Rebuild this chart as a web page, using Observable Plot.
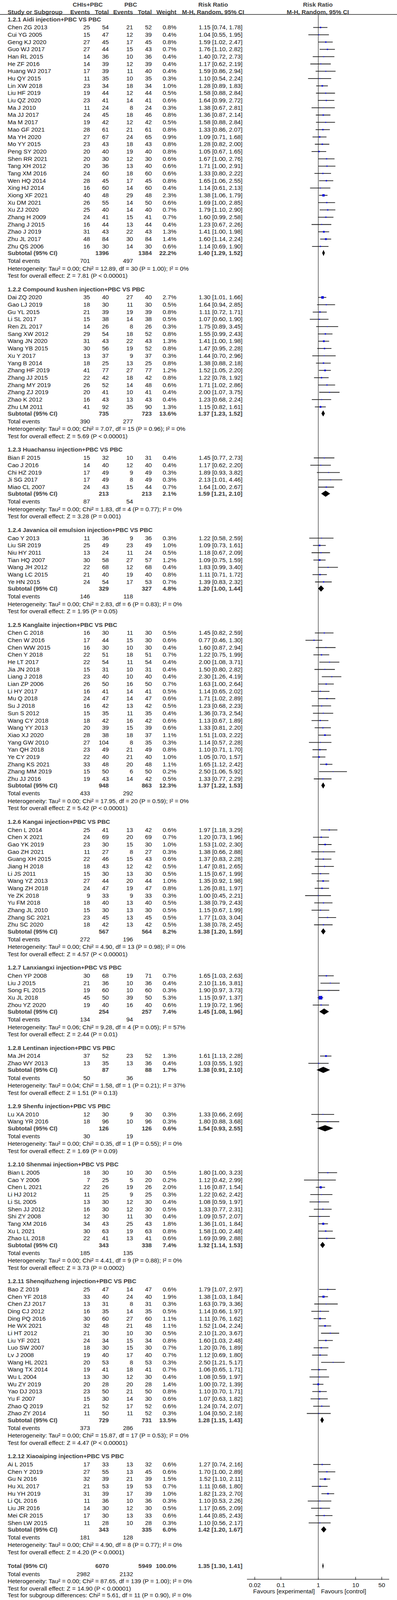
<!DOCTYPE html>
<html><head><meta charset="utf-8">
<script src="https://cdn.jsdelivr.net/npm/d3@7"></script>
<script src="https://cdn.jsdelivr.net/npm/@observablehq/plot@0.6"></script>
<style>html,body{margin:0;padding:0;background:#fff} svg{display:block}</style>
</head><body><div id="chart"></div>
<script>
// ---------------- DATA ----------------
const groupTitles = [
  "1.2.1 Aidi injection+PBC VS PBC",
  "1.2.2 Compound kushen injection+PBC VS PBC",
  "1.2.3 Huachansu injection+PBC VS PBC",
  "1.2.4 Javanica oil emulsion injection+PBC VS PBC",
  "1.2.5 Kanglaite injection+PBC VS PBC",
  "1.2.6 Kangai injection+PBC VS PBC",
  "1.2.7 Lanxiangxi injection+PBC VS PBC",
  "1.2.8 Lentinan injection+PBC VS PBC",
  "1.2.9 Shenfu injection+PBC VS PBC",
  "1.2.10 Shenmai injection+PBC VS PBC",
  "1.2.11 Shenqifuzheng injection+PBC VS PBC",
  "1.2.12 Xiaoaiping injection+PBC VS PBC"
];
const studyNames = [
  ["Chen ZG 2013","Cui YG 2005","Geng KJ 2020","Guo WJ 2017","Han RL 2015","He ZF 2016","Huang WJ 2017","Hu QY 2015","Lin XW 2018","Liu HF 2019","Liu QZ 2020","Ma J 2010","Ma JJ 2017","Ma M 2017","Mao GF 2021","Ma YH 2020","Mo YY 2015","Peng SY 2020","Shen RR 2021","Tang XH 2012","Tang XM 2016","Wen HQ 2014","Xing HJ 2014","Xiong XF 2021","Xu DM 2021","Xu ZJ 2020","Zhang H 2009","Zhang J 2015","Zhao J 2019","Zhu JL 2017","Zhu QS 2006"],
  ["Dai ZQ 2020","Gao LJ 2019","Gu YL 2015","Li SL 2017","Ren ZL 2017","Sang XW 2012","Wang JN 2020","Wang YB 2015","Xu Y 2017","Yang B 2014","Zhang HF 2019","Zhang JJ 2015","Zhang MY 2019","Zhang ZJ 2019","Zhao K 2012","Zhu LM 2011"],
  ["Bian F 2015","Cao J 2016","Chi HZ 2019","Ji SG 2017","Miao CL 2007"],
  ["Cao Y 2013","Liu SR 2019","Niu HY 2011","Tian HQ 2007","Wang JH 2012","Wang LC 2015","Ye HN 2015"],
  ["Chen C 2018","Chen W 2016","Chen WW 2015","Chen Y 2018","He LT 2017","Jia JN 2018","Liang J 2018","Lian ZP 2006","Li HY 2017","Mu Q 2018","Su J 2018","Sun S 2012","Wang CY 2018","Wang YY 2013","Xiao XJ 2020","Yang GW 2010","Yan QH 2018","Ye CY 2019","Zhang KS 2021","Zhang MM 2019","Zhu JJ 2016"],
  ["Chen L 2014","Chen X 2021","Gao YK 2019","Gao ZH 2021","Guang XH 2015","Jiang H 2018","Li JS 2011","Wang YZ 2013","Wang ZH 2018","Ye ZK 2018","Yu FM 2018","Zhang JL 2010","Zhang SC 2021","Zhu SC 2020"],
  ["Chen YP 2008","Liu J 2015","Song FL 2015","Xu JL 2018","Zhou YZ 2020"],
  ["Ma JH 2014","Zhao WY 2013"],
  ["Lu XA 2010","Wang YR 2016"],
  ["Bian L 2005","Cao Y 2006","Chen L 2021","Li HJ 2012","Li SL 2005","Shen JJ 2012","Shi ZY 2008","Tang XM 2016","Xu L 2021","Zhao LL 2018"],
  ["Bao Z 2019","Chen YF 2018","Chen ZJ 2017","Ding CJ 2012","Ding PQ 2016","He WX 2021","Li HT 2012","Liu YF 2021","Luo SW 2007","Lv J 2008","Wang HL 2021","Wang TX 2014","Wu L 2004","Wu ZY 2019","Yao DJ 2013","Yu F 2007","Zhao Q 2019","Zhao ZY 2014"],
  ["Ai L 2015","Chen Y 2019","Gu N 2016","Hu XL 2017","Hu YH 2019","Li QL 2016","Liu JR 2016","Mei CR 2015","Shen LW 2015"]
];
const expEvents = [
  [25,15,27,27,14,14,17,11,23,19,23,11,24,19,28,27,23,20,20,20,24,28,16,40,26,25,24,16,31,48,16],
  [35,18,21,15,14,29,31,30,13,18,41,22,26,20,16,41],
  [15,14,17,17,24],
  [11,25,13,30,22,21,24],
  [16,17,16,22,22,15,23,26,16,24,16,15,18,20,28,27,23,22,33,15,19],
  [25,24,23,11,22,18,15,27,24,9,18,15,23,18],
  [30,21,19,45,19],
  [37,13],
  [12,18],
  [18,7,22,11,13,16,12,34,30,22],
  [25,33,13,16,30,32,21,24,18,19,20,19,13,20,23,15,21,11],
  [17,27,32,21,31,11,14,17,11]
];
const expTotal = [
  [54,47,45,44,36,39,39,35,34,44,41,24,45,42,61,67,43,40,30,36,60,45,60,48,55,40,41,44,43,84,30],
  [40,30,39,38,26,54,43,56,37,25,77,42,52,41,43,92],
  [32,40,49,49,43],
  [36,49,24,58,68,40,54],
  [30,44,30,51,54,31,40,50,41,47,42,35,42,39,38,104,49,40,48,50,43],
  [41,69,30,27,46,43,30,44,47,33,40,30,45,42],
  [68,36,60,50,40],
  [52,35],
  [30,96],
  [30,25,26,25,30,30,30,43,63,41],
  [47,40,31,35,60,48,30,34,30,40,53,41,30,28,50,30,52,50],
  [33,55,39,53,39,36,30,30,28]
];
const ctrlEvents = [
  [21,12,17,15,10,12,11,10,18,12,14,8,18,12,21,24,18,19,12,13,18,17,14,29,14,14,15,13,22,30,14],
  [27,11,19,14,8,18,22,19,9,13,27,18,14,10,13,35],
  [10,12,9,8,15],
  [9,23,11,27,12,19,17],
  [11,15,10,18,11,10,10,16,14,14,13,11,16,15,18,8,21,21,20,6,14],
  [13,20,15,8,15,12,13,20,19,9,13,13,13,13],
  [19,10,10,39,16],
  [23,13],
  [9,10],
  [10,5,19,9,12,12,11,25,19,13],
  [14,24,8,14,27,21,10,15,15,17,8,18,12,20,21,14,17,11],
  [13,13,21,19,17,10,12,13,10]
];
const ctrlTotal = [
  [52,39,45,43,36,39,40,35,34,44,41,24,46,42,61,65,43,40,30,40,60,45,60,48,50,40,41,44,43,84,30],
  [40,30,39,38,26,52,43,52,37,25,77,42,48,41,43,90],
  [31,40,49,49,44],
  [36,49,24,57,68,40,53],
  [30,30,30,51,54,31,40,50,41,47,42,35,42,39,37,35,49,40,48,50,42],
  [42,69,30,27,43,42,30,44,47,33,40,30,45,42],
  [71,36,60,50,40],
  [52,36],
  [30,96],
  [30,20,26,25,30,30,30,43,63,41],
  [47,40,31,35,60,48,30,34,30,40,53,41,30,28,50,30,52,52],
  [32,45,39,53,39,36,30,33,28]
];
const weights = [
  [0.8,0.4,0.8,0.7,0.4,0.4,0.4,0.3,1.0,0.5,0.6,0.3,0.8,0.5,0.8,0.9,0.8,0.8,0.6,0.6,0.6,0.8,0.4,2.3,0.6,0.7,0.7,0.4,1.3,1.4,0.6],
  [2.7,0.5,0.8,0.5,0.3,0.8,1.3,0.8,0.3,0.8,1.2,0.8,0.6,0.4,0.4,1.3],
  [0.4,0.4,0.3,0.3,0.7],
  [0.3,1.0,0.5,1.2,0.4,0.8,0.7],
  [0.5,0.6,0.4,0.7,0.4,0.4,0.4,0.7,0.5,0.6,0.5,0.4,0.6,0.6,1.1,0.3,0.8,1.0,1.1,0.2,0.5],
  [0.6,0.7,1.0,0.3,0.6,0.5,0.5,1.0,0.8,0.3,0.5,0.5,0.5,0.5],
  [0.7,0.4,0.3,5.3,0.6],
  [1.3,0.4],
  [0.3,0.3],
  [0.5,0.2,2.0,0.3,0.4,0.5,0.4,1.8,0.8,0.6],
  [0.6,1.9,0.3,0.5,1.1,1.1,0.5,0.8,0.7,0.7,0.3,0.7,0.4,1.4,0.8,0.6,0.6,0.3],
  [0.6,0.6,1.5,0.7,1.0,0.3,0.5,0.6,0.3]
];
const riskRatio = [
  [1.15,1.04,1.59,1.76,1.40,1.17,1.59,1.10,1.28,1.58,1.64,1.38,1.36,1.58,1.33,1.09,1.28,1.05,1.67,1.71,1.33,1.65,1.14,1.38,1.69,1.79,1.60,1.23,1.41,1.60,1.14],
  [1.30,1.64,1.11,1.07,1.75,1.55,1.41,1.47,1.44,1.38,1.52,1.22,1.71,2.00,1.23,1.15],
  [1.45,1.17,1.89,2.13,1.64],
  [1.22,1.09,1.18,1.09,1.83,1.11,1.39],
  [1.45,0.77,1.60,1.22,2.00,1.50,2.30,1.63,1.14,1.71,1.23,1.36,1.13,1.33,1.51,1.14,1.10,1.05,1.65,2.50,1.33],
  [1.97,1.20,1.53,1.38,1.37,1.47,1.15,1.35,1.26,1.00,1.38,1.15,1.77,1.38],
  [1.65,2.10,1.90,1.15,1.19],
  [1.61,1.03],
  [1.33,1.80],
  [1.80,1.12,1.16,1.22,1.08,1.33,1.09,1.36,1.58,1.69],
  [1.79,1.38,1.63,1.14,1.11,1.52,2.10,1.60,1.20,1.12,2.50,1.06,1.08,1.00,1.10,1.07,1.24,1.04],
  [1.27,1.70,1.52,1.11,1.82,1.10,1.17,1.44,1.10]
];
const ciLower = [
  [0.74,0.55,1.02,1.10,0.72,0.62,0.86,0.54,0.89,0.88,0.99,0.67,0.87,0.88,0.86,0.71,0.82,0.67,1.00,1.00,0.80,1.06,0.61,1.06,1.00,1.10,0.99,0.67,1.00,1.14,0.69],
  [1.01,0.94,0.72,0.60,0.89,0.99,1.00,0.95,0.70,0.88,1.05,0.78,1.02,1.07,0.68,0.82],
  [0.77,0.62,0.93,1.01,1.00],
  [0.58,0.73,0.67,0.75,0.99,0.71,0.83],
  [0.82,0.46,0.87,0.75,1.08,0.80,1.26,1.00,0.65,1.02,0.68,0.73,0.67,0.81,1.03,0.57,0.71,0.70,1.12,1.06,0.77],
  [1.18,0.73,1.02,0.66,0.83,0.81,0.67,0.92,0.81,0.45,0.79,0.67,1.03,0.78],
  [1.03,1.16,0.97,0.97,0.72],
  [1.13,0.55],
  [0.66,0.88],
  [1.00,0.42,0.87,0.62,0.59,0.77,0.57,1.01,1.00,0.99],
  [1.07,1.03,0.79,0.66,0.76,1.04,1.20,1.03,0.76,0.69,1.21,0.65,0.59,0.72,0.70,0.63,0.74,0.50],
  [0.74,1.00,1.10,0.68,1.23,0.53,0.65,0.85,0.56]
];
const ciUpper = [
  [1.78,1.95,2.47,2.82,2.73,2.19,2.94,2.24,1.83,2.84,2.72,2.81,2.14,2.84,2.07,1.68,2.00,1.65,2.76,2.91,2.22,2.55,2.13,1.79,2.85,2.90,2.58,2.26,1.98,2.24,1.90],
  [1.66,2.85,1.71,1.90,3.45,2.43,1.98,2.28,2.96,2.18,2.20,1.92,2.86,3.75,2.24,1.61],
  [2.73,2.20,3.82,4.46,2.67],
  [2.59,1.61,2.09,1.59,3.40,1.72,2.32],
  [2.59,1.30,2.94,1.99,3.71,2.82,4.19,2.64,2.02,2.89,2.23,2.54,1.89,2.20,2.22,2.28,1.70,1.57,2.42,5.92,2.29],
  [3.29,1.96,2.30,2.88,2.28,2.65,1.99,1.98,1.97,2.21,2.43,1.99,3.04,2.45],
  [2.63,3.81,3.73,1.37,1.96],
  [2.28,1.92],
  [2.69,3.68],
  [3.23,2.99,1.54,2.42,1.97,2.31,2.07,1.84,2.48,2.88],
  [2.97,1.84,3.36,1.97,1.62,2.24,3.67,2.48,1.89,1.80,5.17,1.71,1.97,1.39,1.71,1.82,2.07,2.18],
  [2.16,2.89,2.11,1.80,2.70,2.26,2.09,2.43,2.17]
];
// subgroup totals
const subExpTotal   = [1396,735,213,329,948,567,254,87,126,343,729,343];
const subCtrlTotal  = [1384,723,213,327,863,564,257,88,126,338,731,335];
const subWeight     = [22.2,13.6,2.1,4.8,12.3,8.2,7.4,1.7,0.6,7.4,13.5,6.0];
const subRR         = [1.40,1.37,1.59,1.20,1.37,1.38,1.45,1.38,1.54,1.32,1.28,1.42];
const subLower      = [1.29,1.23,1.21,1.00,1.22,1.20,1.08,0.91,0.93,1.14,1.15,1.20];
const subUpper      = [1.52,1.52,2.10,1.44,1.53,1.59,1.96,2.10,2.55,1.53,1.43,1.67];
const subExpEvents  = [701,390,87,146,433,272,134,50,30,185,373,181];
const subCtrlEvents = [497,277,54,118,292,196,94,36,19,135,286,128];
const hetTau2 = ["0.00","0.00","0.00","0.00","0.00","0.00","0.06","0.04","0.00","0.00","0.00","0.00"];
const hetChi2 = ["12.89","7.07","1.83","2.83","17.95","4.90","9.28","1.58","0.35","4.41","15.87","4.90"];
const hetDf   = [30,15,4,6,20,13,4,1,1,9,17,8];
const hetP    = ["1.00","0.96","0.77","0.83","0.59","0.98","0.05","0.21","0.55","0.88","0.53","0.77"];
const hetI2   = [0,0,0,0,0,0,57,37,0,0,0,0];
const testZ   = ["7.81","5.69","3.28","1.95","5.42","4.57","2.44","1.51","1.69","3.73","4.47","4.20"];
const testP   = ["< 0.00001","< 0.00001","= 0.001","= 0.05","< 0.00001","< 0.00001","= 0.01","= 0.13","= 0.09","= 0.0002","< 0.00001","< 0.0001"];
// overall
const overall = {expTotal: 6070, ctrlTotal: 5949, weight: "100.0%", rr: 1.35, lo: 1.30, hi: 1.41, expEvents: 2982, ctrlEvents: 2132};
const overallNotes = [
  "Heterogeneity: Tau² = 0.00; Chi² = 87.65, df = 139 (P = 1.00); I² = 0%",
  "Test for overall effect: Z = 14.90 (P < 0.00001)",
  "Test for subgroup differences: Chi² = 5.61, df = 11 (P = 0.90), I² = 0%"
];
const tickValues = [0.02, 0.1, 1, 10, 50];
const tickLabels = ["0.02", "0.1", "1", "10", "50"];
const favoursLabels = ["Favours [experimental]", "Favours [control]"];

// ---------------- LAYOUT (in reference row units) ----------------
const W = 1016, H = 4425;
// the photographed area ends near 4096 px, so the row layout is fitted into it
const DRAW_H = 4092;
const L = {first: 53, headToStudy: 22.5, pitch: 20.19, studyToSub: 18.7, subToTE: 21.7,
           teToHet: 21, hetToTest: 20.2, testToHead: 37.1, testToTotal: 38,
           totalToTE: 22, teToHetT: 20, hetToTestT: 20, testToSub: 19,
           axisY: 4369, headerUnderline: 39.5, headerRow1: 13, headerRow2: 33, refTop: 41};
const COL = {name: 19, e1: 230, n1: 278, e2: 340, n2: 388, w: 451, ci: 620, rrHead: 545, plotHead: 813};
const fmt2 = v => v.toFixed(2);
const ciText = (r, lo, hi) => `${fmt2(r)} [${fmt2(lo)}, ${fmt2(hi)}]`;

const studies = [], heads = [], subs = [], teRows = [], notes = [], diamonds = [];
let y = L.first, lastTest = 0;
groupTitles.forEach((title, g) => {
  heads.push({text: title, y});
  y += L.headToStudy;
  studyNames[g].forEach((name, i) => {
    studies.push({name, e1: expEvents[g][i], n1: expTotal[g][i], e2: ctrlEvents[g][i], n2: ctrlTotal[g][i],
      w: weights[g][i], rr: riskRatio[g][i], lo: ciLower[g][i], hi: ciUpper[g][i], y});
    y += L.pitch;
  });
  y += L.studyToSub - L.pitch;
  subs.push({label: "Subtotal (95% CI)", n1: subExpTotal[g], n2: subCtrlTotal[g], w: subWeight[g].toFixed(1) + "%",
    rr: subRR[g], lo: subLower[g], hi: subUpper[g], y, id: g});
  y += L.subToTE;
  teRows.push({e1: subExpEvents[g], e2: subCtrlEvents[g], y});
  y += L.teToHet;
  notes.push({text: `Heterogeneity: Tau² = ${hetTau2[g]}; Chi² = ${hetChi2[g]}, df = ${hetDf[g]} (P = ${hetP[g]}); I² = ${hetI2[g]}%`, y});
  y += L.hetToTest;
  notes.push({text: `Test for overall effect: Z = ${testZ[g]} (P ${testP[g]})`, y});
  lastTest = y;
  y += L.testToHead;
});
const totalY = lastTest + L.testToTotal;
subs.push({label: "Total (95% CI)", n1: overall.expTotal, n2: overall.ctrlTotal, w: overall.weight,
  rr: overall.rr, lo: overall.lo, hi: overall.hi, y: totalY, id: 99});
let ty = totalY + L.totalToTE;
teRows.push({e1: overall.expEvents, e2: overall.ctrlEvents, y: ty});
ty += L.teToHetT; notes.push({text: overallNotes[0], y: ty});
ty += L.hetToTestT; notes.push({text: overallNotes[1], y: ty});
ty += L.testToSub; notes.push({text: overallNotes[2], y: ty});
const lastY = ty;

const DH = 8.5;
subs.forEach(s => {
  diamonds.push({id: s.id, y: s.y - DH, x1: s.rr, x2: s.rr});
  diamonds.push({id: s.id, y: s.y, x1: s.lo, x2: s.hi});
  diamonds.push({id: s.id, y: s.y + DH, x1: s.rr, x2: s.rr});
});

const headerRow1 = [
  {text: "CHIs+PBC", dx: 224, anchor: "middle"},
  {text: "PBC", dx: 334, anchor: "middle"},
  {text: "Risk Ratio", dx: COL.rrHead, anchor: "middle"},
  {text: "Risk Ratio", dx: COL.plotHead, anchor: "middle"}
];
const headerRow2 = [
  {text: "Study or Subgroup", dx: COL.name, anchor: "start"},
  {text: "Events", dx: COL.e1, anchor: "end"},
  {text: "Total", dx: COL.n1, anchor: "end"},
  {text: "Events", dx: COL.e2, anchor: "end"},
  {text: "Total", dx: COL.n2, anchor: "end"},
  {text: "Weight", dx: COL.w, anchor: "end"},
  {text: "M-H, Random, 95% CI", dx: COL.rrHead, anchor: "middle"},
  {text: "M-H, Random, 95% CI", dx: COL.plotHead, anchor: "middle"}
];

// ---------------- PLOT ----------------
const FS = 15.5, FF = "Liberation Sans, Arial, Helvetica, sans-serif";
const DARK = "#111", GRAY = "#3d3d3d";
const T = (data, text, dx, anchor, extra = {}) =>
  Plot.text(data, {y: "y", text, frameAnchor: "left", dx, textAnchor: anchor, fontSize: FS, fontFamily: FF, fill: DARK, ...extra});
const B = {fontWeight: "bold", fill: GRAY};
const xDomain = [1 / 80, 80];
const str = k => d => String(d[k]);

const hdr = [];
headerRow1.forEach(h => hdr.push(Plot.text([h], {y: () => L.headerRow1, text: "text", frameAnchor: "left", dx: h.dx, textAnchor: h.anchor, fontSize: FS, fontFamily: FF, fontWeight: "bold", fill: GRAY})));
headerRow2.forEach(h => hdr.push(Plot.text([h], {y: () => L.headerRow2, text: "text", frameAnchor: "left", dx: h.dx, textAnchor: h.anchor, fontSize: FS, fontFamily: FF, fontWeight: "bold", fill: GRAY})));

const chart = Plot.plot({
  width: W, height: DRAW_H + 4,
  marginLeft: 0, marginRight: 0, marginTop: 0, marginBottom: 0,
  x: {type: "log", domain: xDomain, range: [632, 996], axis: null},
  y: {domain: [0, H], range: [0, DRAW_H * H / (lastY + 9)], axis: null},
  r: {type: "sqrt", domain: [0, 5.3], range: [0, 5.2]},
  style: {background: "#fff"},
  marks: [
    ...hdr,
    Plot.ruleY([L.headerUnderline], {stroke: "#222", strokeWidth: 1.5}),
    Plot.ruleX([1], {y1: L.refTop, y2: L.axisY, stroke: "#222", strokeWidth: 1.2}),
    T(heads, "text", COL.name, "start", B),
    T(studies, "name", COL.name, "start"),
    T(studies, str("e1"), COL.e1, "end"),
    T(studies, str("n1"), COL.n1, "end"),
    T(studies, str("e2"), COL.e2, "end"),
    T(studies, str("n2"), COL.n2, "end"),
    T(studies, d => d.w.toFixed(1) + "%", COL.w, "end"),
    T(studies, d => ciText(d.rr, d.lo, d.hi), COL.ci, "end"),
    T(subs, "label", COL.name, "start", B),
    T(subs, str("n1"), COL.n1, "end", B),
    T(subs, str("n2"), COL.n2, "end", B),
    T(subs, "w", COL.w, "end", B),
    T(subs, d => ciText(d.rr, d.lo, d.hi), COL.ci, "end", B),
    T(teRows, () => "Total events", COL.name, "start"),
    T(teRows, str("e1"), COL.e1, "end"),
    T(teRows, str("e2"), COL.e2, "end"),
    T(notes, "text", COL.name, "start"),
    Plot.ruleY(studies, {y: "y", x1: "lo", x2: "hi", stroke: "#1a1a1a", strokeWidth: 1.8}),
    Plot.dot(studies, {x: "rr", y: "y", r: "w", symbol: "square", fill: "#1010e0", stroke: "none"}),
    Plot.areaX(diamonds, {y: "y", x1: "x1", x2: "x2", z: "id", fill: "#000", curve: "linear"}),
    Plot.ruleY([L.axisY], {x1: xDomain[0], x2: xDomain[1], stroke: "#000", strokeWidth: 1.3}),
    Plot.ruleX(tickValues, {y1: L.axisY - 6, y2: L.axisY + 2, stroke: "#000", strokeWidth: 1.2}),
    Plot.text(tickValues, {x: d => d, y: () => L.axisY + 16, text: (d, i) => tickLabels[i], fontSize: FS, fontFamily: FF, fill: DARK}),
    Plot.text([favoursLabels[0]], {x: () => 1, y: () => L.axisY + 34, text: d => d, dx: -9, textAnchor: "end", fontSize: FS, fontFamily: FF, fill: DARK}),
    Plot.text([favoursLabels[1]], {x: () => 1, y: () => L.axisY + 34, text: d => d, dx: 7, textAnchor: "start", fontSize: FS, fontFamily: FF, fill: DARK})
  ]
});
document.getElementById("chart").appendChild(chart);
</script>
</body></html>
